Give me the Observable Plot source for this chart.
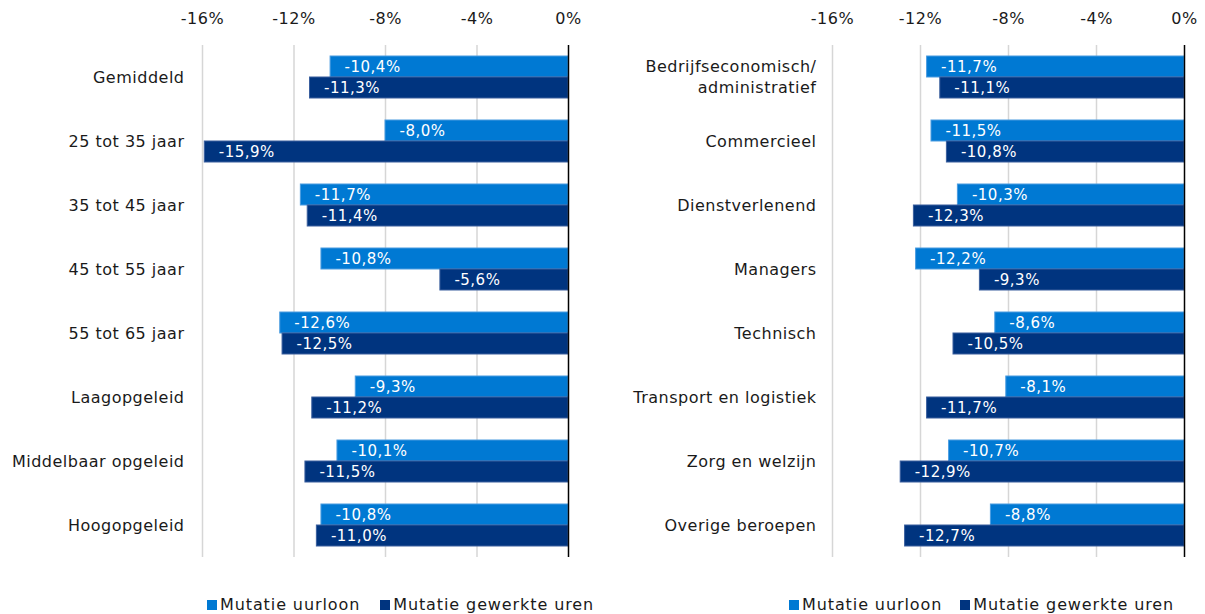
<!DOCTYPE html>
<html>
<head>
<meta charset="utf-8">
<script src="https://cdn.jsdelivr.net/npm/d3@7"></script>
<script src="https://cdn.jsdelivr.net/npm/@observablehq/plot@0.6"></script>
<style>
  html, body { margin: 0; padding: 0; background: #fff; }
  #wrap { position: relative; width: 1205px; height: 614px; overflow: hidden; font-family: "DejaVu Sans", Verdana, sans-serif; }
  .panel { position: absolute; top: 0; }
  .legend { position: absolute; top: 595px; display: flex; align-items: center; font-size: 16px; letter-spacing: 0.9px; color: #1a1a1a; white-space: nowrap; }
  .legend .sw { display: inline-block; width: 10px; height: 10px; margin-right: 3px; }
</style>
</head>
<body>
<div id="wrap"></div>
<script>
const seriesNames = ["Mutatie uurloon", "Mutatie gewerkte uren"];
const seriesColors = ["#0079D3", "#00347F"];
const seriesEdges = ["#4A9CE0", "#3A5F9E"];
const xTicks = [-16, -12, -8, -4, 0];

const leftCategories = ["Gemiddeld", "25 tot 35 jaar", "35 tot 45 jaar", "45 tot 55 jaar", "55 tot 65 jaar", "Laagopgeleid", "Middelbaar opgeleid", "Hoogopgeleid"];
const leftUurloon = [-10.4, -8.0, -11.7, -10.8, -12.6, -9.3, -10.1, -10.8];
const leftUren = [-11.3, -15.9, -11.4, -5.6, -12.5, -11.2, -11.5, -11.0];

const rightCategories = ["Bedrijfseconomisch/\nadministratief", "Commercieel", "Dienstverlenend", "Managers", "Technisch", "Transport en logistiek", "Zorg en welzijn", "Overige beroepen"];
const rightUurloon = [-11.7, -11.5, -10.3, -12.2, -8.6, -8.1, -10.7, -8.8];
const rightUren = [-11.1, -10.8, -12.3, -9.3, -10.5, -11.7, -12.9, -12.7];

function rows(cats, a, b) {
  return cats.flatMap((c, i) => [
    {cat: c, series: seriesNames[0], value: a[i]},
    {cat: c, series: seriesNames[1], value: b[i]}
  ]);
}
const fmt = v => v.toFixed(1).replace(".", ",") + "%";

function chart(cats, data, {width, marginLeft, marginRight, labelPad}) {
  const barMarks = seriesNames.map((s, i) =>
    Plot.barX(data.filter(d => d.series === s), {
      fy: "cat", y: "series", x: "value",
      fill: seriesColors[i], stroke: seriesEdges[i], strokeWidth: 1
    })
  );
  return Plot.plot({
    width, height: 580,
    marginTop: 41, marginBottom: 20, marginLeft, marginRight,
    style: {fontFamily: "'DejaVu Sans', Verdana, sans-serif", fontSize: "16px", color: "#1a1a1a", letterSpacing: "0.5px", background: "transparent", overflow: "visible"},
    x: {domain: [-16, 0], axis: null},
    fy: {domain: cats, padding: 0, axis: null},
    y: {domain: seriesNames, paddingInner: 0, paddingOuter: 0.5, axis: null},
    marks: [
      Plot.ruleX(xTicks.slice(0, -1), {stroke: "#d6d6d6", strokeWidth: 1.5}),
      ...barMarks,
      Plot.text(data, {fy: "cat", y: "series", x: "value", text: d => fmt(d.value), textAnchor: "start", dx: 14, fill: "white", fontSize: 15}),
      Plot.ruleX([0], {stroke: "#000", strokeWidth: 1.5}),
      Plot.axisX({anchor: "top", ticks: xTicks, tickFormat: d => d + "%", tickSize: 0, tickPadding: 22, fontSize: 16, label: null}),
      Plot.axisFy({anchor: "left", tickSize: 0, tickPadding: labelPad, fontSize: 16, lineHeight: 1.3, dy: -1.5, label: null})
    ]
  });
}

function legend(left, gap) {
  const div = document.createElement("div");
  div.className = "legend";
  div.style.left = left + "px";
  seriesNames.forEach((s, i) => {
    const item = document.createElement("span");
    item.style.display = "inline-flex";
    item.style.alignItems = "center";
    if (i > 0) item.style.marginLeft = gap + "px";
    const sw = document.createElement("span");
    sw.className = "sw";
    sw.style.background = seriesColors[i];
    item.appendChild(sw);
    item.appendChild(document.createTextNode(s));
    div.appendChild(item);
  });
  return div;
}

const wrap = document.getElementById("wrap");

const leftPanel = document.createElement("div");
leftPanel.className = "panel";
leftPanel.style.left = "0px";
leftPanel.appendChild(chart(leftCategories, rows(leftCategories, leftUurloon, leftUren), {width: 600, marginLeft: 202, marginRight: 32, labelPad: 18}));
wrap.appendChild(leftPanel);

const rightPanel = document.createElement("div");
rightPanel.className = "panel";
rightPanel.style.left = "600px";
rightPanel.appendChild(chart(rightCategories, rows(rightCategories, rightUurloon, rightUren), {width: 605, marginLeft: 232, marginRight: 21, labelPad: 16}));
wrap.appendChild(rightPanel);

wrap.appendChild(legend(207, 20));
wrap.appendChild(legend(789, 18));
</script>
</body>
</html>
